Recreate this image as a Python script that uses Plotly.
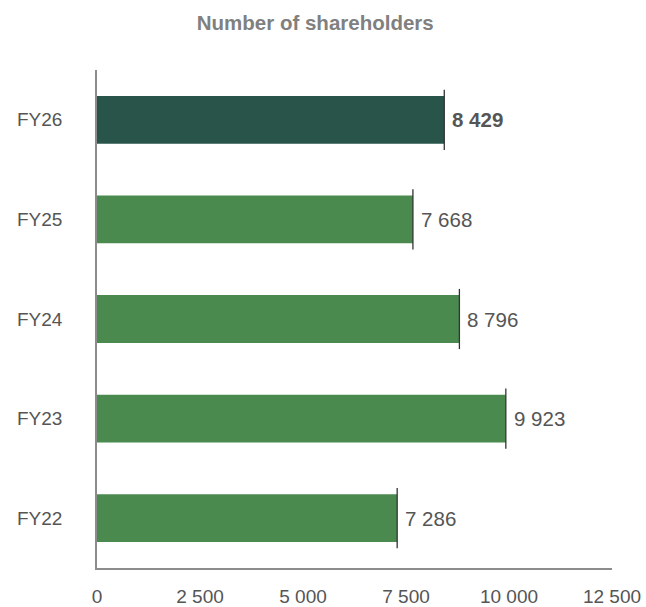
import plotly.graph_objects as go

categories = ["FY22", "FY23", "FY24", "FY25", "FY26"]
values = [7286, 9923, 8796, 7668, 8429]
bar_colors = ["#4a8a4f", "#4a8a4f", "#4a8a4f", "#4a8a4f", "#29544a"]
highlight = "FY26"
x_ticks = [0, 2500, 5000, 7500, 10000, 12500]

FONT = "Liberation Sans, Arial, sans-serif"


def fmt(v):
    return f"{v:,}".replace(",", " ")


fig = go.Figure()
fig.add_trace(go.Bar(
    y=categories, x=values, orientation="h",
    marker=dict(color=bar_colors, line=dict(width=0)),
    width=0.48, hoverinfo="skip",
))
# thin end markers
fig.add_trace(go.Scatter(
    y=categories, x=values, mode="markers",
    marker=dict(symbol="line-ns-open", size=43, color="#333333",
                line=dict(color="#333333", width=1.3)),
    hoverinfo="skip",
))

for c, v in zip(categories, values):
    txt = fmt(v)
    if c == highlight:
        txt = f"<b>{txt}</b>"
    fig.add_annotation(
        x=v, y=c, text=txt, showarrow=False, xanchor="left", xshift=6,
        font=dict(family=FONT, size=20.5, color="#555555"),
    )

fig.update_layout(
    width=646, height=607,
    margin=dict(l=97, r=34, t=70, b=39),
    paper_bgcolor="white", plot_bgcolor="white",
    showlegend=False,
    title=dict(text="<b>Number of shareholders</b>", x=0.488, xanchor="center",
               y=0.962, yanchor="middle",
               font=dict(family=FONT, size=20.5, color="#808080")),
    font=dict(family=FONT, size=19, color="#555555"),
)
fig.update_xaxes(
    range=[0, 12500], tickvals=x_ticks,
    ticktext=[fmt(t) for t in x_ticks],
    showgrid=False, zeroline=False,
    showline=True, linecolor="#8c8c8c", linewidth=1.5,
    ticks="", ticklabelstandoff=10, tickfont=dict(size=19, color="#555555"),
    automargin=False,
)
fig.update_yaxes(
    categoryorder="array", categoryarray=categories,
    range=[-0.5, 4.5],
    showgrid=False, zeroline=False,
    showline=True, linecolor="#8c8c8c", linewidth=1.5,
    ticks="", ticklabelstandoff=29,
    tickfont=dict(size=19, color="#555555"),
    automargin=False,
)

fig.write_html(
    "out.html",
    config={"displayModeBar": False},
    post_script="document.body.style.margin='0';document.body.style.overflow='hidden';",
)
